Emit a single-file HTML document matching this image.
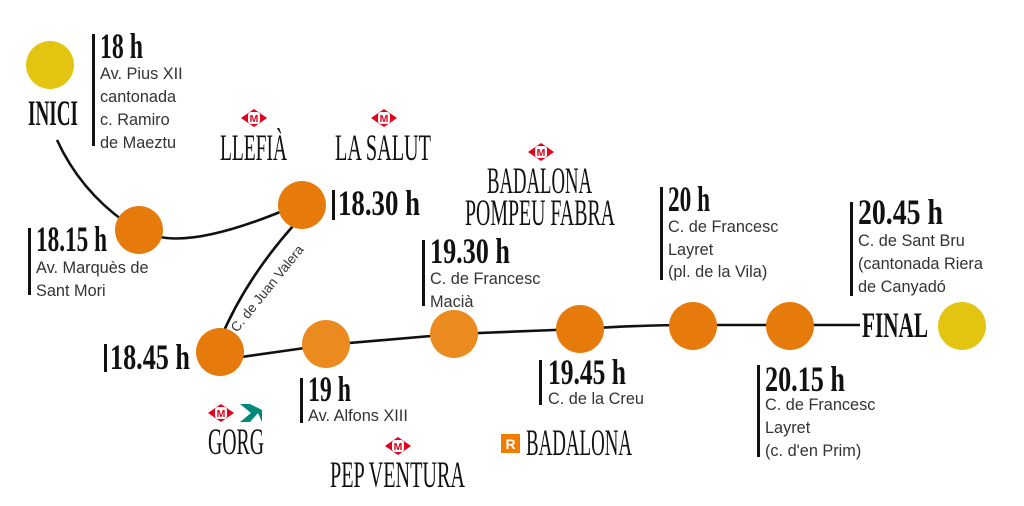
<!DOCTYPE html>
<html><head><meta charset="utf-8"><style>
html,body{margin:0;padding:0;background:#fff;}
svg{display:block;}
.h{font-family:"Liberation Serif",serif;font-weight:bold;fill:#111;}
.s{font-family:"Liberation Serif",serif;fill:#111;}
.t{font-family:"Liberation Sans",sans-serif;font-size:16.3px;fill:#333;}
</style></head><body>
<svg width="1024" height="506" viewBox="0 0 1024 506" xmlns="http://www.w3.org/2000/svg">
<defs>
<g id="m">
<polygon points="0,-9 13,0 0,9 -13,0" fill="#e2001a"/>
<rect x="-6" y="-6" width="12" height="12" rx="3" fill="#fff"/>
<text x="0" y="4" text-anchor="middle" font-family="Liberation Sans,sans-serif" font-weight="bold" font-size="10.5" fill="#e2001a">M</text>
</g>
</defs>
<g fill="none" stroke="#111" stroke-width="2.6">
<path d="M57,140 Q80,190 125,222"/>
<path d="M160,237 Q200,245 285,210"/>
<path d="M293,226 Q245,280 220,340"/>
<path d="M220,360 L326,345 L454,334 L580,329 Q640,325 693,325 L860,325"/>
</g>
<circle cx="50" cy="65" r="24" fill="#e3c511"/>
<circle cx="962" cy="326" r="24" fill="#e3c511"/>
<circle cx="139" cy="230" r="24" fill="#e67a0a"/>
<circle cx="302" cy="205" r="24" fill="#e67a0a"/>
<circle cx="220" cy="352" r="24" fill="#e67a0a"/>
<circle cx="326" cy="344" r="24" fill="#eb8b1f"/>
<circle cx="454" cy="334" r="24" fill="#eb8b1f"/>
<circle cx="580" cy="329" r="24" fill="#e67a0a"/>
<circle cx="693" cy="326" r="24" fill="#e67a0a"/>
<circle cx="790" cy="326" r="24" fill="#e67a0a"/>
<text class="t" transform="translate(237,333) rotate(-51)" style="font-size:13.5px">C. de Juan Valera</text>
<g fill="#111">
<rect x="92" y="34" width="3" height="112"/>
<rect x="28" y="228" width="3" height="67"/>
<rect x="332" y="190" width="3" height="30"/>
<rect x="104" y="344" width="3" height="28"/>
<rect x="300" y="378" width="3" height="45"/>
<rect x="422" y="240" width="3" height="66"/>
<rect x="539" y="360" width="3" height="45"/>
<rect x="660" y="187" width="3" height="93"/>
<rect x="850" y="202" width="3" height="94"/>
<rect x="757" y="365" width="3" height="92"/>
</g>
<text class="h" x="28" y="125" font-size="36" textLength="50" lengthAdjust="spacingAndGlyphs">INICI</text>
<text class="h" x="862" y="337" font-size="36" textLength="66" lengthAdjust="spacingAndGlyphs">FINAL</text>
<text class="h" x="100" y="58" font-size="36" textLength="43" lengthAdjust="spacingAndGlyphs">18 h</text>
<text class="t" x="100" y="79">Av. Pius XII</text>
<text class="t" x="100" y="102">cantonada</text>
<text class="t" x="100" y="125">c. Ramiro</text>
<text class="t" x="100" y="148">de Maeztu</text>
<text class="h" x="36" y="251" font-size="36" textLength="71" lengthAdjust="spacingAndGlyphs">18.15 h</text>
<text class="t" x="36" y="273">Av. Marquès de</text>
<text class="t" x="36" y="296">Sant Mori</text>
<text class="h" x="338" y="215" font-size="36" textLength="82" lengthAdjust="spacingAndGlyphs">18.30 h</text>
<text class="h" x="110" y="369" font-size="36" textLength="80" lengthAdjust="spacingAndGlyphs">18.45 h</text>
<text class="h" x="308" y="401" font-size="36" textLength="43" lengthAdjust="spacingAndGlyphs">19 h</text>
<text class="t" x="308" y="421">Av. Alfons XIII</text>
<text class="h" x="430" y="263" font-size="36" textLength="80" lengthAdjust="spacingAndGlyphs">19.30 h</text>
<text class="t" x="430" y="284">C. de Francesc</text>
<text class="t" x="430" y="307">Macià</text>
<text class="h" x="548" y="384" font-size="36" textLength="78" lengthAdjust="spacingAndGlyphs">19.45 h</text>
<text class="t" x="548" y="404">C. de la Creu</text>
<text class="h" x="668" y="211" font-size="36" textLength="42" lengthAdjust="spacingAndGlyphs">20 h</text>
<text class="t" x="668" y="232">C. de Francesc</text>
<text class="t" x="668" y="255">Layret</text>
<text class="t" x="668" y="277">(pl. de la Vila)</text>
<text class="h" x="858" y="224" font-size="36" textLength="85" lengthAdjust="spacingAndGlyphs">20.45 h</text>
<text class="t" x="858" y="246">C. de Sant Bru</text>
<text class="t" x="858" y="269">(cantonada Riera</text>
<text class="t" x="858" y="292">de Canyadó</text>
<text class="h" x="765" y="391" font-size="36" textLength="80" lengthAdjust="spacingAndGlyphs">20.15 h</text>
<text class="t" x="765" y="410">C. de Francesc</text>
<text class="t" x="765" y="433">Layret</text>
<text class="t" x="765" y="456">(c. d'en Prim)</text>
<use href="#m" x="254" y="118"/>
<text class="s" x="220" y="160" font-size="37" textLength="67" lengthAdjust="spacingAndGlyphs">LLEFIÀ</text>
<use href="#m" x="384" y="118"/>
<text class="s" x="335" y="160" font-size="37" textLength="96" lengthAdjust="spacingAndGlyphs">LA SALUT</text>
<use href="#m" x="541" y="152"/>
<text class="s" x="487" y="193" font-size="37" textLength="105" lengthAdjust="spacingAndGlyphs">BADALONA</text>
<text class="s" x="465" y="225" font-size="37" textLength="150" lengthAdjust="spacingAndGlyphs">POMPEU FABRA</text>
<use href="#m" x="221" y="413"/>
<rect x="240" y="404" width="22" height="18" fill="#00897b"/>
<polygon points="240,404 251,413 240,422" fill="#fff"/>
<polygon points="250,422 258,413 262,422" fill="#fff"/>
<polygon points="250,404 262,404 262,410" fill="#fff"/>
<text class="s" x="208" y="454" font-size="37" textLength="56" lengthAdjust="spacingAndGlyphs">GORG</text>
<use href="#m" x="398" y="446"/>
<text class="s" x="330" y="487" font-size="37" textLength="135" lengthAdjust="spacingAndGlyphs">PEP VENTURA</text>
<rect x="501" y="434" width="19" height="19" fill="#f07c00"/>
<text x="510.5" y="449" text-anchor="middle" font-family="Liberation Sans,sans-serif" font-weight="bold" font-size="14" fill="#fff">R</text>
<text class="s" x="526" y="455" font-size="37" textLength="106" lengthAdjust="spacingAndGlyphs">BADALONA</text>
</svg>
</body></html>
